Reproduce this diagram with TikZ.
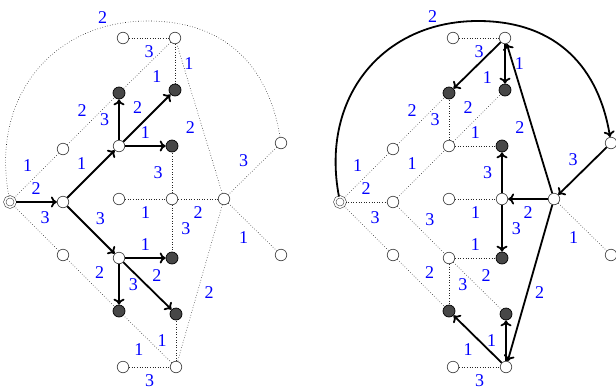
\documentclass[tikz,border=0pt]{standalone}
\usepackage{fontspec}
\setmainfont{Liberation Serif}
\usepackage{tikz}
\usetikzlibrary{arrows.meta}

%% vertices of one copy of the graph, plus the dotted edges that both copies share
\newcommand{\basegraph}[1]{%
  \node[start] (#1s)  at (10,202)  {};
  \node[vtx]   (#1a)  at (63,202)  {};
  \node[vtx]   (#1p)  at (63,149)  {};
  \node[vtx]   (#1q)  at (63,255)  {};
  \node[vtx]   (#1c)  at (119,146) {};
  \node[vtx]   (#1d)  at (119,258) {};
  \node[vtx]   (#1tl) at (123,38)  {};
  \node[vtx]   (#1tr) at (175,38)  {};
  \node[hit]   (#1u1) at (119,93)  {};
  \node[hit]   (#1u2) at (175,90)  {};
  \node[hit]   (#1u3) at (172,146) {};
  \node[vtx]   (#1m1) at (119,199) {};
  \node[vtx]   (#1m2) at (172,199) {};
  \node[vtx]   (#1m3) at (224,199) {};
  \node[vtx]   (#1r1) at (281,143) {};
  \node[vtx]   (#1r2) at (281,255) {};
  \node[hit]   (#1w1) at (172,258) {};
  \node[hit]   (#1w2) at (119,311) {};
  \node[hit]   (#1w3) at (176,314) {};
  \node[vtx]   (#1bl) at (123,367) {};
  \node[vtx]   (#1br) at (176,367) {};
  \coordinate  (#1top) at (148,21);
  \draw[dot] (#1s)  -- node[lbl, above left=4pt]  {1} (#1p);
  \draw[dot] (#1s)  -- node[lbl, above right=4pt] {3} (#1q);
  \draw[dot] (#1p)  -- node[lbl, above left=4pt]  {2} (#1u1);
  \draw[dot] (#1tl) -- node[lbl, below=7pt]       {3} (#1tr);
  \draw[dot] (#1m1) -- node[lbl, below=7pt]       {1} (#1m2);
  \draw[dot] (#1m3) -- node[lbl, below left=4pt]  {1} (#1r2);
  \draw[dot] (#1q)  -- node[lbl, above right=4pt] {2} (#1w2);
  \draw[dot] (#1bl) -- node[lbl, below=7pt]       {3} (#1br);
}

\begin{document}
\begin{tikzpicture}[
    x=1pt, y=-1pt,
    vtx/.style   = {circle, draw=black!70, fill=white, line width=0.7pt,
                    minimum size=11.5pt, inner sep=0pt},
    hit/.style   = {circle, draw=black, fill=black!72, line width=0.7pt,
                    minimum size=12pt, inner sep=0pt},
    start/.style = {circle, draw=black!70, fill=white, line width=0.6pt,
                    double=white, double distance=1.6pt,
                    minimum size=10.5pt, inner sep=0pt},
    arr/.style   = {-{To[length=6pt, width=11pt]}, line width=1.8pt},
    dot/.style   = {dotted, line width=0.6pt, black!85},
    lbl/.style   = {text=blue, inner sep=0pt,
                    font=\fontsize{18}{18}\selectfont},
  ]
  \useasboundingbox (0,0) rectangle (616,389);

  %% Left copy: tree grown from a
  \basegraph{L}
  \draw[arr] (Ls) -- node[lbl, above=7pt]       {2} (La);
  \draw[arr] (La) -- node[lbl, above left=4pt]  {1} (Lc);
  \draw[arr] (La) -- node[lbl, above right=4pt] {3} (Ld);
  \draw[arr] (Lc) -- node[lbl, left=9pt]        {3} (Lu1);
  \draw[arr] (Lc) -- node[lbl, above left=4pt]  {2} (Lu2);
  \draw[arr] (Lc) -- node[lbl, above=7pt]       {1} (Lu3);
  \draw[arr] (Ld) -- node[lbl, above=7pt]       {1} (Lw1);
  \draw[arr] (Ld) -- node[lbl, right=9pt]       {3} (Lw2);
  \draw[arr] (Ld) -- node[lbl, above right=4pt] {2} (Lw3);

  \draw[dot] (Ls) .. controls +(-20,-105) and +(-95,0) .. (Ltop)
             node[lbl, pos=.83, above=4pt] {2}
             .. controls +(80,0) and +(-12,-74) .. (Lr1);
  \draw[dot] (Lr1) -- node[lbl, above left=4pt]      {3} (Lm3);
  \draw[dot] (Lm3) -- node[lbl, pos=.44, left=7pt]   {2} (Ltr);
  \draw[dot] (Ltr) -- node[lbl, below right=5pt]     {1} (Lu1);
  \draw[dot] (Ltr) -- node[lbl, right=9pt]           {1} (Lu2);
  \draw[dot] (Lm3) -- node[lbl, below=7pt]           {2} (Lm2);
  \draw[dot] (Lm2) -- node[lbl, left=9pt]            {3} (Lu3);
  \draw[dot] (Lm2) -- node[lbl, right=9pt]           {3} (Lw1);
  \draw[dot] (Lm3) -- node[lbl, pos=.56, right=7pt]  {2} (Lbr);
  \draw[dot] (Lbr) -- node[lbl, below left=4pt]      {1} (Lw2);
  \draw[dot] (Lbr) -- node[lbl, left=9pt]            {1} (Lw3);

  %% Right copy: tree grown from m3
  \begin{scope}[xshift=330pt]
    \basegraph{R}
    \draw[arr] (Rs) .. controls +(-20,-105) and +(-95,0) .. (Rtop)
               node[lbl, pos=.83, above=4pt] {2}
               .. controls +(80,0) and +(-12,-74) .. (Rr1);
    \draw[arr] (Rr1) -- node[lbl, above left=4pt]      {3} (Rm3);
    \draw[arr] (Rm3) -- node[lbl, pos=.44, left=7pt]   {2} (Rtr);
    \draw[arr] (Rtr) -- node[lbl, below right=5pt]     {1} (Ru1);
    \draw[arr] (Rtr) -- node[lbl, right=9pt]           {1} (Ru2);
    \draw[arr] (Rm3) -- node[lbl, below=7pt]           {2} (Rm2);
    \draw[arr] (Rm2) -- node[lbl, left=9pt]            {3} (Ru3);
    \draw[arr] (Rm2) -- node[lbl, right=9pt]           {3} (Rw1);
    \draw[arr] (Rm3) -- node[lbl, pos=.56, right=7pt]  {2} (Rbr);
    \draw[arr] (Rbr) -- node[lbl, below left=4pt]      {1} (Rw2);
    \draw[arr] (Rbr) -- node[lbl, left=9pt]            {1} (Rw3);

    \draw[dot] (Rs) -- node[lbl, above=7pt]       {2} (Ra);
    \draw[dot] (Ra) -- node[lbl, above left=4pt]  {1} (Rc);
    \draw[dot] (Ra) -- node[lbl, above right=4pt] {3} (Rd);
    \draw[dot] (Rc) -- node[lbl, left=9pt]        {3} (Ru1);
    \draw[dot] (Rc) -- node[lbl, above left=4pt]  {2} (Ru2);
    \draw[dot] (Rc) -- node[lbl, above=7pt]       {1} (Ru3);
    \draw[dot] (Rd) -- node[lbl, above=7pt]       {1} (Rw1);
    \draw[dot] (Rd) -- node[lbl, right=9pt]       {3} (Rw2);
    \draw[dot] (Rd) -- node[lbl, above right=4pt] {2} (Rw3);
  \end{scope}

\end{tikzpicture}
\end{document}
